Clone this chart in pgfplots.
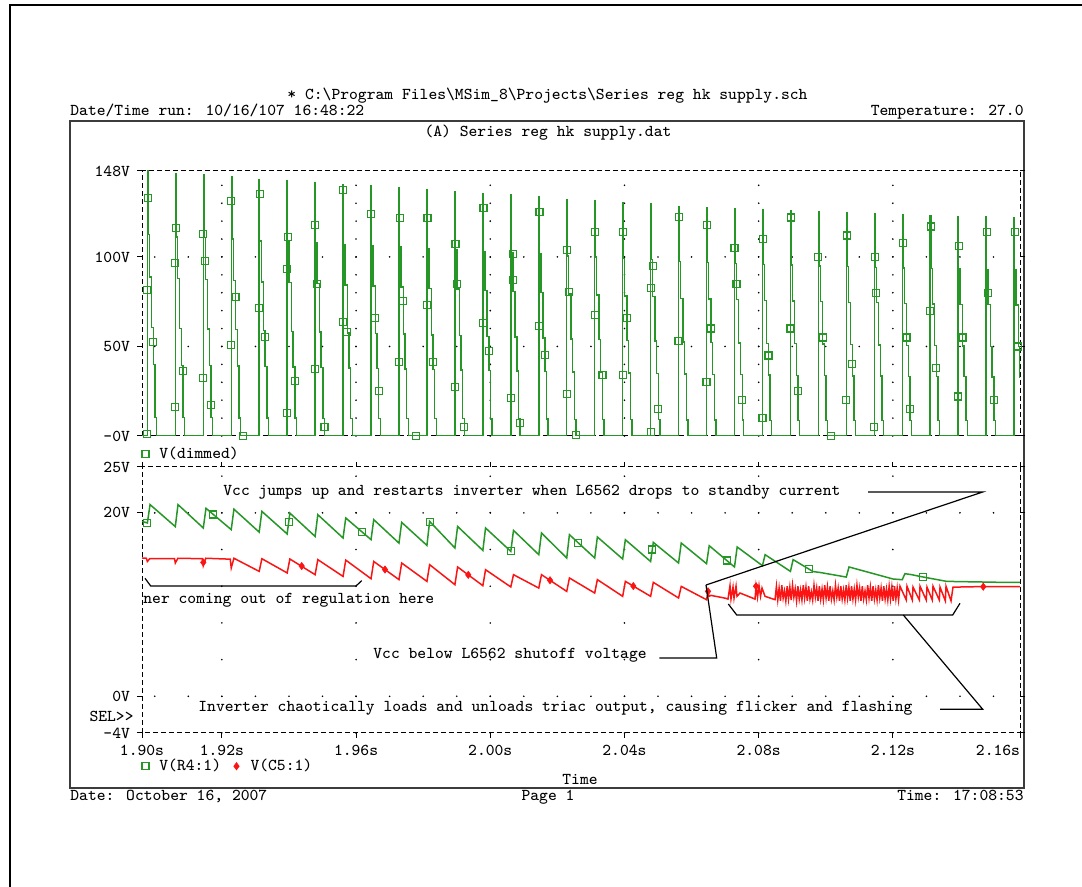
\documentclass[border=0pt]{standalone}
\usepackage{pgfplots}
\usepackage{pgfplotstable}
\pgfplotsset{compat=1.18}

\definecolor{trgreen}{RGB}{38,150,38}
\definecolor{trred}{RGB}{250,20,20}
\definecolor{framegray}{RGB}{60,60,60}
\newcommand\lbl{\ttfamily\fontsize{8.3pt}{9pt}\selectfont}

% V(dimmed): triac output, one staircase per half cycle (drawn as const plot)
\pgfplotstableread{
t v
1.8962 0
1.89780 148.0
1.89798 112.5
1.89840 88.8
1.89908 60.7
1.89959 40.0
1.90010 10.4
1.90057 0
1.90613 146.3
1.90631 111.2
1.90673 87.8
1.90741 60.0
1.90792 39.5
1.90843 10.2
1.90890 0
1.91447 145.8
1.91465 110.8
1.91507 87.5
1.91575 59.8
1.91626 39.4
1.91677 10.2
1.91724 0
1.92280 144.8
1.92298 110.0
1.92340 86.9
1.92408 59.4
1.92459 39.1
1.92510 10.1
1.92557 0
1.93113 143.4
1.93131 109.0
1.93173 86.0
1.93241 58.8
1.93292 38.7
1.93343 10.0
1.93390 0
1.93947 142.6
1.93965 108.4
1.94007 85.6
1.94075 58.5
1.94126 38.5
1.94177 10.0
1.94224 0
1.94780 141.7
1.94798 107.7
1.94840 85.0
1.94908 58.1
1.94959 38.3
1.95010 9.9
1.95057 0
1.95613 140.6
1.95631 106.9
1.95673 84.4
1.95741 57.6
1.95792 38.0
1.95843 9.8
1.95890 0
1.96447 139.6
1.96465 106.1
1.96507 83.8
1.96575 57.2
1.96626 37.7
1.96677 9.8
1.96724 0
1.97280 138.9
1.97298 105.6
1.97340 83.3
1.97408 56.9
1.97459 37.5
1.97510 9.7
1.97557 0
1.98113 137.4
1.98131 104.4
1.98173 82.4
1.98241 56.3
1.98292 37.1
1.98343 9.6
1.98390 0
1.98947 136.7
1.98965 103.9
1.99007 82.0
1.99075 56.0
1.99126 36.9
1.99177 9.6
1.99224 0
1.99780 135.5
1.99798 103.0
1.99840 81.3
1.99908 55.6
1.99959 36.6
2.00010 9.5
2.00057 0
2.00613 134.6
2.00631 102.3
2.00673 80.8
2.00741 55.2
2.00792 36.3
2.00843 9.4
2.00890 0
2.01447 133.7
2.01465 101.6
2.01507 80.2
2.01575 54.8
2.01626 36.1
2.01677 9.4
2.01724 0
2.02280 132.2
2.02298 100.5
2.02340 79.3
2.02408 54.2
2.02459 35.7
2.02510 9.3
2.02557 0
2.03113 131.4
2.03131 99.9
2.03173 78.8
2.03241 53.9
2.03292 35.5
2.03343 9.2
2.03390 0
2.03947 130.3
2.03965 99.0
2.04007 78.2
2.04075 53.4
2.04126 35.2
2.04177 9.1
2.04224 0
2.04780 129.6
2.04798 98.5
2.04840 77.8
2.04908 53.1
2.04959 35.0
2.05010 9.1
2.05057 0
2.05613 128.1
2.05631 97.4
2.05673 76.9
2.05741 52.5
2.05792 34.6
2.05843 9.0
2.05890 0
2.06447 127.5
2.06465 96.9
2.06507 76.5
2.06575 52.3
2.06626 34.4
2.06677 8.9
2.06724 0
2.07280 126.8
2.07298 96.4
2.07340 76.1
2.07408 52.0
2.07459 34.2
2.07510 8.9
2.07557 0
2.08113 126.2
2.08131 95.9
2.08173 75.7
2.08241 51.7
2.08292 34.1
2.08343 8.8
2.08390 0
2.08947 125.6
2.08965 95.5
2.09007 75.4
2.09075 51.5
2.09126 33.9
2.09177 8.8
2.09224 0
2.09780 125.0
2.09798 95.0
2.09840 75.0
2.09908 51.3
2.09959 33.8
2.10010 8.8
2.10057 0
2.10613 124.5
2.10631 94.6
2.10673 74.7
2.10741 51.0
2.10792 33.6
2.10843 8.7
2.10890 0
2.11447 124.0
2.11465 94.2
2.11507 74.4
2.11575 50.8
2.11626 33.5
2.11677 8.7
2.11724 0
2.12280 123.5
2.12298 93.9
2.12340 74.1
2.12408 50.6
2.12459 33.3
2.12510 8.6
2.12557 0
2.13113 123.0
2.13131 93.5
2.13173 73.8
2.13241 50.4
2.13292 33.2
2.13343 8.6
2.13390 0
2.13947 122.6
2.13965 93.2
2.14007 73.6
2.14075 50.3
2.14126 33.1
2.14177 8.6
2.14224 0
2.14780 122.2
2.14798 92.9
2.14840 73.3
2.14908 50.1
2.14959 33.0
2.15010 8.6
2.15057 0
2.15613 121.8
2.15631 92.6
2.15673 73.1
2.15741 49.9
2.15792 32.9
2.15843 8.5
2.15890 0
}\dimmed

% marker positions along V(dimmed)
\pgfplotstableread{
t v
1.89798 132.8
1.89780 81.5
1.89959 52.5
1.89780 1.1
1.90631 116.3
1.90613 96.4
1.90843 36.3
1.90613 16.0
1.91447 112.6
1.91507 97.9
1.91447 32.4
1.91677 17.5
1.92280 131.2
1.92408 77.5
1.92280 51.0
1.92630 0
1.93131 135.3
1.93113 71.3
1.93292 55.5
1.93947 93.3
1.93965 111.0
1.93947 13.0
1.94177 30.9
1.94780 117.8
1.94840 85.1
1.94780 37.6
1.95057 5.0
1.95613 137.2
1.95613 63.5
1.95741 58.0
1.96447 124.0
1.96575 66.0
1.96677 25.0
1.97298 121.6
1.97408 75.4
1.97280 41.3
1.97787 0
1.98131 121.6
1.98113 73.2
1.98292 41.3
1.98965 107.4
1.99007 85.1
1.98947 27.2
1.99224 4.9
1.99798 127.5
1.99780 63.3
1.99959 47.3
2.00673 101.5
2.00673 87.3
2.00613 21.4
2.00890 7.1
2.01465 125.3
2.01447 61.4
2.01626 45.1
2.02298 103.7
2.02340 80.6
2.02280 23.5
2.02557 0.4
2.03131 114.1
2.03113 67.7
2.03343 33.9
2.03965 114.1
2.04075 65.7
2.03947 33.9
2.04780 82.5
2.04840 95.1
2.05010 15.1
2.04780 2.2
2.05631 122.5
2.05613 53.2
2.06465 118.0
2.06575 60.0
2.06447 30.0
2.07280 105.0
2.07340 85.0
2.07510 20.0
2.08131 110.0
2.08292 45.0
2.08113 10.0
2.08965 122.0
2.08947 60.0
2.09177 25.0
2.09780 100.0
2.09908 55.0
2.10150 0
2.10631 112.0
2.10792 40.0
2.10613 20.0
2.11465 100.0
2.11507 80.0
2.11447 5.0
2.12298 108.0
2.12408 55.0
2.12510 15.0
2.13131 117.0
2.13113 70.0
2.13292 38.0
2.13965 106.0
2.14075 55.0
2.13947 22.0
2.14798 114.0
2.14840 80.0
2.15010 20.0
2.15631 114.0
2.15741 50.0
2.15792 35.0
}\dimmedmarks

% V(R4:1): Vcc of the controller
\pgfplotstableread{
t v
1.8962 19.07
1.89780 18.9
1.89860 20.9
1.90613 18.5
1.90693 20.9
1.91447 18.35
1.91527 20.5
1.92280 18.17
1.92360 20.4
1.93113 17.9
1.93193 20.16
1.93947 17.7
1.94027 19.98
1.94780 17.43
1.94860 19.8
1.95613 17.26
1.95693 19.44
1.96447 17.08
1.96527 19.26
1.97280 16.7
1.97360 18.96
1.98113 16.45
1.98193 19.07
1.98947 16.17
1.99027 18.52
1.99780 15.9
1.99860 18.35
2.00613 15.8
2.00693 18.09
2.01447 15.44
2.01527 17.8
2.02280 15.08
2.02360 17.62
2.03113 15.08
2.03193 17.37
2.03947 14.97
2.04027 17.07
2.04780 14.7
2.04860 16.78
2.05613 14.53
2.05693 16.71
2.06447 14.46
2.06527 16.42
2.07280 14.1
2.07360 16.28
2.08113 14.24
2.08193 15.44
2.08947 13.62
2.09027 14.9
2.09620 13.6
2.09830 13.5
2.10613 13.0
2.10693 14.1
2.12003 12.79
2.12280 12.71
2.12360 13.37
2.12561 13.26
2.12808 13.07
2.13604 12.53
2.15292 12.42
2.1579 12.42
}\vccA

\pgfplotstableread{
t v
1.8978 18.9
1.91745 19.82
1.93993 19.0
1.96186 17.9
1.98204 19.04
2.00613 15.8
2.02625 16.73
2.0483 16.0
2.07048 14.81
2.0951 13.85
2.1289 13.01
}\vccAmarks

% V(C5:1)
\pgfplotstableread{
t v
1.8962 15.08
1.8975 15.05
1.8978 14.7
1.8985 15.0
1.9059 15.0
1.90613 14.53
1.9069 15.05
1.9142 15.0
1.91447 14.24
1.9152 15.05
1.9225 14.95
1.92280 13.99
1.92360 15.05
1.93113 13.62
1.93193 15.0
1.93947 13.45
1.94027 14.97
1.94780 13.26
1.94860 14.9
1.95613 13.07
1.95693 14.85
1.96447 12.82
1.96527 14.7
1.97280 12.72
1.97360 14.53
1.98113 12.53
1.98193 14.35
1.98947 12.17
1.99027 14.1
1.99780 12.06
1.99860 13.8
2.00613 11.92
2.00693 13.26
2.01447 11.8
2.01527 13.26
2.02280 11.44
2.02360 12.9
2.03113 11.26
2.03193 12.72
2.03947 10.9
2.04027 12.53
2.04780 10.9
2.04860 12.42
2.05613 10.72
2.05693 11.98
2.06447 10.53
2.06491 11.44
2.06520 10.9
2.06580 11.0
2.07000 10.7
2.07086 10.6
2.07146 12.06
2.07176 10.6
2.07236 11.9
2.07266 10.7
2.07326 12.0
2.07355 10.9
2.07445 11.26
2.07892 10.6
2.07922 12.0
2.07967 10.8
2.08011 12.06
2.08056 10.9
2.08101 11.8
2.08190 10.9
2.08488 10.53
2.0853 12.0
2.0857 10.5
2.0861 11.8
2.0865 10.4
2.0869 12.1
2.0873 10.7
2.0877 11.5
2.0881 10.4
2.0885 12.0
2.0889 10.6
2.0893 11.9
2.0897 10.5
2.0901 12.1
2.0905 10.8
2.0909 11.7
2.0913 10.4
2.0917 12.0
2.0921 10.6
2.0925 11.6
2.0929 10.5
2.0933 12.1
2.0937 10.7
2.0941 11.9
2.0945 10.4
2.0949 12.0
2.0953 10.6
2.0957 11.4
2.0961 10.5
2.0965 12.1
2.0969 10.8
2.0973 11.8
2.0977 10.4
2.0981 12.0
2.0985 10.6
2.0989 11.7
2.0993 10.5
2.0997 12.1
2.1001 10.7
2.1005 11.9
2.1009 10.4
2.1013 12.0
2.1017 10.6
2.1021 11.5
2.1025 10.5
2.1029 12.1
2.1033 10.8
2.1037 11.8
2.1041 10.4
2.1045 12.0
2.1049 10.6
2.1053 11.6
2.1057 10.5
2.1061 12.1
2.1065 10.7
2.1069 11.9
2.1073 10.4
2.1077 12.0
2.1081 10.6
2.1085 11.7
2.1089 10.5
2.1093 12.1
2.1097 10.8
2.1101 11.8
2.1105 10.4
2.1109 12.0
2.1113 10.6
2.1117 11.5
2.1121 10.5
2.1125 12.1
2.1129 10.7
2.1133 11.9
2.1137 10.4
2.1141 12.0
2.1145 10.6
2.1149 11.6
2.1153 10.5
2.1157 12.1
2.1161 10.7
2.1165 11.8
2.1169 10.4
2.1173 12.0
2.1177 10.6
2.1181 11.7
2.1185 10.5
2.1189 12.0
2.1193 10.6
2.1197 11.9
2.1201 10.4
2.1205 12.0
2.1209 10.6
2.1213 11.8
2.1217 10.5
2.12213 12.0
2.12400 10.5
2.12422 12.0
2.12580 10.5
2.12601 11.9
2.12790 10.5
2.12810 12.0
2.12995 10.5
2.13018 11.9
2.13175 10.5
2.13197 12.0
2.13385 10.5
2.13406 11.9
2.13565 10.4
2.13585 12.0
2.13734 10.4
2.13793 11.9
2.14500 11.95
2.1579 11.95
}\vccB

\pgfplotstableread{
t v
1.91447 14.6
1.9438 14.2
1.96863 13.82
1.99345 13.24
2.01781 12.65
2.04264 12.02
2.06491 11.44
2.07922 12.0
2.14695 11.95
}\vccBmarks

\pgfplotsset{
  probeaxis/.style={
    scale only axis, width=439pt,
    xmin=1.8962, xmax=2.1579,
    axis line style={black, line width=0.5pt, dash pattern=on 2.5pt off 1.5pt},
    tick align=outside, major tick length=2.5pt,
    tick style={black, line width=0.5pt, solid},
    tick label style={font=\lbl, text=black},
    xtick={1.92,1.96,2.00,2.04,2.08,2.12},
    xmajorgrids, ymajorgrids,
    major y grid style={black, line width=0.9pt, line cap=round,
      dash pattern=on 0pt off 16.775pt, dash phase=10.4pt},
    legend style={draw=none, fill=none, font=\lbl, inner sep=0pt, outer sep=0pt,
      legend cell align=left},
    legend image code/.code={\path (0pt,0pt) (7.8pt,0pt);
      \draw[##1] plot coordinates {(3pt,0pt)};},
  },
  sqmark/.style={only marks, mark=square, mark size=1.75pt, trgreen,
    mark options={line width=0.6pt, solid}},
  dmmark/.style={only marks, mark=diamond*, mark size=1.8pt, trred,
    mark options={line width=0.3pt, solid}},
}

\begin{document}
\begin{tikzpicture}
% page furniture, in pixel units measured from the top-left corner
\begin{scope}[x=0.5pt, y=-0.5pt, yshift=443.5pt]
\path[use as bounding box] (0,0) rectangle (1082,887);
\draw[black, line width=1pt] (10,887) -- (10,5) -- (1082,5);
\draw[framegray, line width=0.8pt] (70,121) rectangle (1024,788);
\begin{scope}[every node/.style={font=\lbl, inner sep=0pt, text=black}]
\node[anchor=base] at (547.5,100) {* C:\char92 Program Files\char92 MSim\char95 8\char92 Projects\char92 Series reg hk supply.sch};
\node[anchor=base west] at (70,115.5) {Date/Time run: 10/16/107 16:48:22};
\node[anchor=base east] at (1024,115.5) {Temperature: 27.0};
\node[anchor=base] at (548,137) {(A) Series reg hk supply.dat};
\node[anchor=base west] at (70,801) {Date: October 16, 2007};
\node[anchor=base] at (548,801) {Page 1};
\node[anchor=base east] at (1024,801) {Time: 17:08:53};
\node[anchor=base] at (580,784.5) {Time};
\node[anchor=base east] at (134,722) {SEL>>};
\node[anchor=base west] at (223,495.5) {Vcc jumps up and restarts inverter when L6562 drops to standby current};
\node[anchor=base west] at (143,603.5) {ner coming out of regulation here};
\node[anchor=base west] at (373,659) {Vcc below L6562 shutoff voltage};
\node[anchor=base west] at (198,711.5) {Inverter chaotically loads and unloads triac output, causing flicker and flashing};
\end{scope}
\end{scope}

% upper plot: dimmer output
\begin{axis}[probeaxis, at={(71pt,225.5pt)}, anchor=south west, height=132.5pt,
  ymin=0, ymax=148,
  xticklabels={}, xtick style={draw=none},
  ytick={50,100}, yticklabels={50V,100V},
  extra y ticks={0,148}, extra y tick labels={-0V,148V},
  extra y tick style={grid=none},
  major x grid style={black, line width=0.9pt, line cap=round,
    dash pattern=on 0pt off 8.953pt},
  legend style={at={(0,0)}, anchor=north west, xshift=-1.5pt, yshift=-3.5pt},
]
\addplot[trgreen, line width=0.7pt, const plot, forget plot] table {\dimmed};
\addplot[sqmark] table {\dimmedmarks};
\addlegendentry{V(dimmed)}
\end{axis}

% lower plot: supply rails
\begin{axis}[probeaxis, at={(71pt,77pt)}, anchor=south west, height=133pt,
  ymin=-4, ymax=25,
  xticklabels={1.92s,1.96s,2.00s,2.04s,2.08s,2.12s},
  extra x ticks={1.8962,2.1579},
  extra x tick labels={1.90s,\makebox[0pt][r]{2.16s}},
  extra x tick style={grid=none},
  ytick={0,20}, yticklabels={0V,20V},
  extra y ticks={-4,25}, extra y tick labels={-4V,25V},
  extra y tick style={grid=none},
  major x grid style={black, line width=0.9pt, line cap=round,
    dash pattern=on 0pt off 18.345pt},
  legend columns=2,
  legend style={at={(0,0)}, anchor=north west, xshift=-1.5pt, yshift=-11pt,
    /tikz/column 2/.style={column sep=2.5pt}},
]
\addplot[trgreen, line width=0.75pt, forget plot] table {\vccA};
\addplot[trred, line width=0.75pt, forget plot] table {\vccB};
\addplot[sqmark] table {\vccAmarks};
\addlegendentry{V(R4:1)}
\addplot[dmmark] table {\vccBmarks};
\addlegendentry{V(C5:1)}
\end{axis}

% annotation leaders
\begin{scope}[x=0.5pt, y=-0.5pt, yshift=443.5pt, black, line width=0.6pt]
\draw (868,492) -- (982.7,492) -- (706,585);
\draw (145,578.3) -- (150.7,586) -- (356,586) -- (361.7,580.7);
\draw (659.3,658) -- (716.7,658) -- (706,585);
\draw (728.3,604) -- (736.7,615) -- (952.7,615) -- (960,603.3);
\draw (903.3,615) -- (982.7,709.3) -- (940,709.3);
\end{scope}
\end{tikzpicture}
\end{document}
